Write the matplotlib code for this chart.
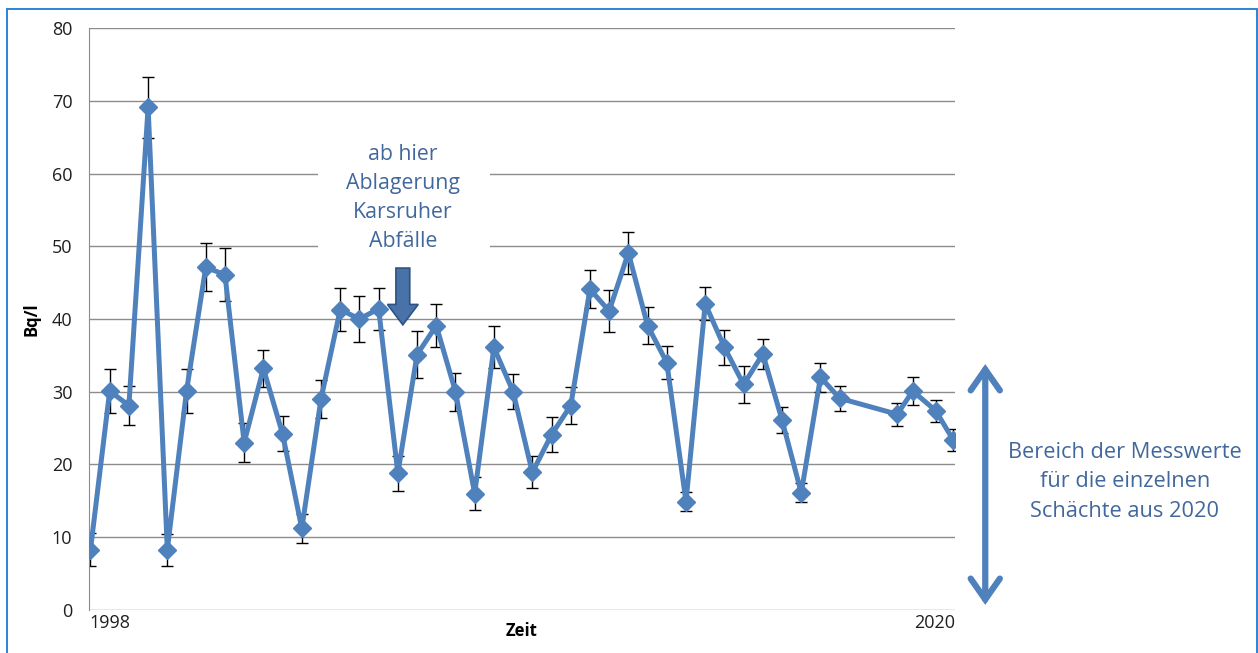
import matplotlib.pyplot as plt
from matplotlib.patches import Rectangle, FancyArrow

plt.rcParams['font.family'] = ['Open Sans', 'DejaVu Sans']

# Zeitpunkte (Jahr, halbjaehrlich) und Messwerte in Bq/l
zeit = [1998.0, 1998.5, 1999.0, 1999.5, 2000.0, 2000.5, 2001.0, 2001.5,
        2002.0, 2002.5, 2003.0, 2003.5, 2004.0, 2004.5, 2005.0, 2005.5,
        2006.0, 2006.5, 2007.0, 2007.5, 2008.0, 2008.5, 2009.0, 2009.5,
        2010.0, 2010.5, 2011.0, 2011.5, 2012.0, 2012.5, 2013.0, 2013.5,
        2014.0, 2014.5, 2015.0, 2015.5, 2016.0, 2016.5, 2017.0, 2017.5,
        2019.0, 2019.4, 2020.0, 2020.45]
werte = [8.3, 30.1, 28.1, 69.1, 8.3, 30.1, 47.1, 46.1,
         23.0, 33.2, 24.2, 11.2, 29.0, 41.3, 40.0, 41.4,
         18.8, 35.1, 39.1, 30.0, 16.0, 36.1, 30.0, 18.9,
         24.1, 28.1, 44.1, 41.1, 49.1, 39.1, 34.0, 14.9,
         42.1, 36.1, 31.0, 35.2, 26.1, 16.1, 32.0, 29.1,
         26.9, 30.1, 27.4, 23.4]
fehler = [2.3, 3.0, 2.7, 4.2, 2.2, 3.0, 3.3, 3.6,
          2.7, 2.5, 2.4, 2.0, 2.6, 2.9, 3.1, 2.9,
          2.4, 3.2, 3.0, 2.6, 2.3, 2.9, 2.4, 2.2,
          2.4, 2.5, 2.6, 2.9, 2.9, 2.6, 2.3, 1.3,
          2.3, 2.4, 2.5, 2.1, 1.8, 1.3, 2.0, 1.7,
          1.6, 1.9, 1.5, 1.5]

blau = '#4f81bd'
textblau = '#41689c'

fig = plt.figure(figsize=(12.58, 6.53), dpi=100)
ax = fig.add_axes([0.0707, 0.0659, 0.6884, 0.8912])

ax.errorbar(zeit, werte, yerr=fehler, fmt='none', ecolor='black',
            elinewidth=1.0, capsize=4.5, capthick=1.0, zorder=2)
ax.plot(zeit, werte, color=blau, lw=3.6, marker='D', markersize=9,
        zorder=3)

ax.set_xlim(1997.96, 2020.5)
ax.set_ylim(0, 80)
ax.set_yticks(range(0, 81, 10))
ax.yaxis.grid(True, color='#8c8c8c', lw=1.0)
ax.set_axisbelow(True)
for s in ['top', 'right', 'bottom']:
    ax.spines[s].set_visible(False)
ax.spines['left'].set_color('#8c8c8c')
ax.tick_params(length=0, labelsize=13, colors='#1f1f1f', pad=12)

ax.set_xticks([1997.96, 2020.5])
ax.set_xticklabels(['1998', '2020'])
labs = ax.get_xticklabels()
labs[0].set_ha('left')
labs[1].set_ha('right')
ax.tick_params(axis='x', pad=3)

ax.set_ylabel('Bq/l', fontsize=12, fontweight='bold', labelpad=8)
ax.set_xlabel('Zeit', fontsize=12, fontweight='bold', labelpad=-4)
ax.xaxis.set_label_coords(0.5, -0.02)

# Hinweis mit weissem Hintergrund
ax.add_patch(Rectangle((2003.92, 46.5), 4.48, 19.5, facecolor='white',
                       edgecolor='none', zorder=1.5))
ax.text(2006.13, 56.7, 'ab hier\nAblagerung\nKarsruher\nAbfälle',
        ha='center', va='center', fontsize=15.3, color=textblau,
        linespacing=1.5, zorder=4)
ax.add_patch(FancyArrow(2006.13, 47.0, 0, -7.8, width=0.36, head_width=0.8,
                        head_length=2.8, length_includes_head=True,
                        facecolor='#4872a8', edgecolor='#2e5283', lw=1.2,
                        zorder=4))

# Bereich rechts
ax.annotate('', xy=(1.035, 0.7), xytext=(1.035, 33.8),
            xycoords=ax.get_yaxis_transform(),
            textcoords=ax.get_yaxis_transform(),
            arrowprops=dict(arrowstyle='<->,head_length=1.5,head_width=1.05',
                            color=blau, lw=4.5, shrinkA=0, shrinkB=0,
                            joinstyle='miter', capstyle='round'),
            annotation_clip=False)
ax.text(1.196, 17.6, 'Bereich der Messwerte\nfür die einzelnen\nSchächte aus 2020',
        transform=ax.get_yaxis_transform(), ha='center', va='center',
        fontsize=15.7, color=textblau, linespacing=1.55)

fig.add_artist(Rectangle((7 / 1258, -0.01), 1250 / 1258, 1 - 9 / 653 + 0.01,
                         transform=fig.transFigure, fill=False,
                         edgecolor='#1f78d1', lw=1.3))

fig.savefig('out.png', dpi=100)
